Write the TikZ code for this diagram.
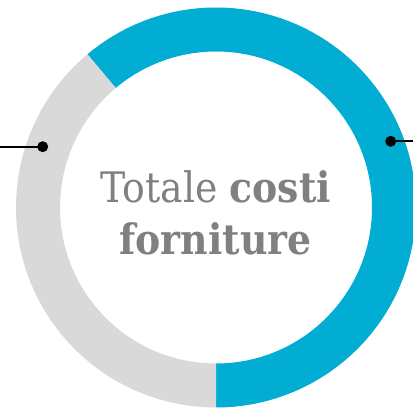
\documentclass[tikz,border=0pt]{standalone}
\usepackage{fontspec}
\usetikzlibrary{calc}
\setmainfont{DejaVu Serif Condensed}
\definecolor{ringblue}{HTML}{02ADD3}
\definecolor{ringgray}{HTML}{D9D9D9}
\definecolor{textgray}{HTML}{808080}
\tikzset{
  dot/.style={circle, fill=black, inner sep=0pt, minimum size=11pt},
  leader/.style={draw=black, line width=2pt},
  label/.style={text=textgray, font=\fontsize{42}{48}\selectfont, anchor=base, inner sep=0pt}
}
\begin{document}
\begin{tikzpicture}[x=1pt,y=1pt]
\useasboundingbox (0,0) rectangle (413,408);
\clip (0,0) rectangle (413,408);
\coordinate (c) at (216,200.5);
% blue segment
\fill[ringblue] ($(c)+(130:200pt)$) arc[start angle=130, end angle=-90, radius=200pt]
  -- ($(c)+(-90:156pt)$) arc[start angle=-90, end angle=130, radius=156pt] -- cycle;
% gray segment
\fill[ringgray] ($(c)+(130:200pt)$) arc[start angle=130, end angle=270, radius=200pt]
  -- ($(c)+(270:156pt)$) arc[start angle=270, end angle=130, radius=156pt] -- cycle;
% leaders
\coordinate (lend) at (0,261.3);
\coordinate (rend) at (413,266.7);
\node[dot] (ldot) at (42.7,261.3) {};
\node[dot] (rdot) at (390.7,266.7) {};
\draw[leader] (lend) -- (ldot.center);
\draw[leader] (rdot.center) -- (rend);
% text
\node[label] (t1) at (216,206) {Totale \textbf{costi}};
\node[label] (t2) at (215.5,154) {\textbf{forniture}};
\end{tikzpicture}
\end{document}
